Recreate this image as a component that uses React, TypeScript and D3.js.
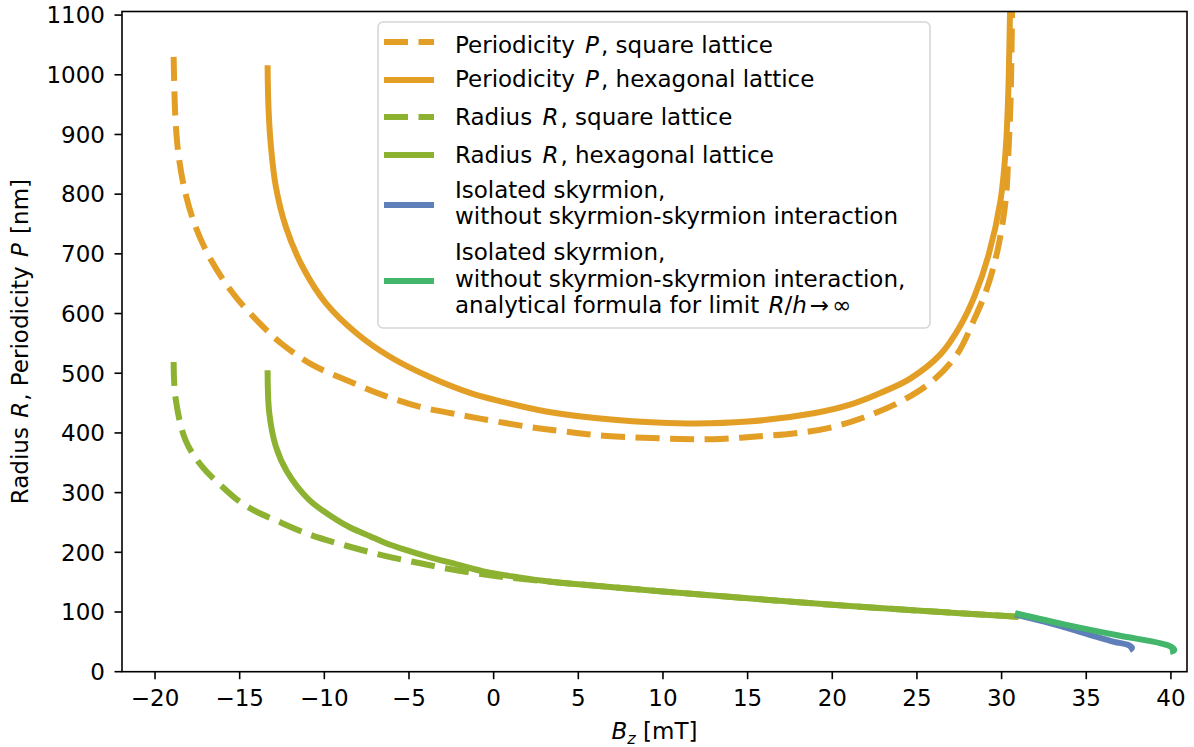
import React from 'react';
import * as d3 from 'd3';

// Periodicity P, square lattice (dashed orange)
const pSquareB = [-18.9, -18.8, -18.6, -18.2, -17.6, -16.7, -15.4, -13.9, -12.5, -10.7, -8.5, -6.5, -4.4, -2.5, -0.8, 2.1, 4.3, 6.7, 11.0, 13.4, 15.5, 17.7, 19.9, 22.05, 24.2, 26.0, 27.4, 28.36, 29.1, 29.76, 30.24, 30.41, 30.53, 30.62];
const pSquareV = [1030, 930, 863, 801, 745, 690, 634, 586, 549, 514, 486, 463, 444, 433, 424, 410, 402, 395, 390, 390, 394, 399, 409, 428, 455, 489, 533, 589, 639, 706, 790, 874, 957, 1110];

// Periodicity P, hexagonal lattice (solid orange)
const pHexB = [-13.35, -13.3, -13.15, -12.86, -12.27, -11.28, -9.9, -8.1, -6.15, -3.8, -1.4, 0.4, 3.1, 7.1, 11.4, 15.0, 18.9, 21.0, 22.84, 24.6, 26.4, 27.57, 28.4, 29.23, 29.94, 30.24, 30.38, 30.5];
const pHexV = [1016, 946, 879, 812, 745, 678, 617, 567, 528, 494, 467, 453, 436, 422, 416, 419, 433, 447, 467, 491, 532, 580, 629, 698, 790, 874, 957, 1110];

// Radius R, square lattice (dashed green)
const rSquareB = [-18.9, -18.8, -18.2, -17.2, -15.8, -15.0, -14.0, -12.9, -10.8, -8.7, -6.55, -4.4, -2.2, 0.2, 2.3, 5, 10, 15, 20, 25, 31.0];
const rSquareV = [519, 461, 388, 343, 304, 285, 268, 254, 229, 211, 195, 182, 170, 160, 153.5, 146.5, 134.5, 123, 112, 102.5, 92];

// Radius R, hexagonal lattice (solid green)
const rHexB = [-13.35, -13.25, -12.86, -12.2, -10.9, -9.3, -8.5, -7.3, -6.5, -5.2, -3.8, -2.6, -0.6, 1.5, 3.3, 5, 10, 15, 20, 25, 31.0];
const rHexV = [505, 433, 377, 335, 288, 255, 242, 227, 217, 204, 192, 183, 168, 158, 151, 146.5, 134.5, 123, 112, 102.5, 92];

// isolated skyrmion (blue) and analytical limit (green)
const isoB = [30.8, 32.9, 35.07, 36.65, 37.45, 37.7, 37.55];
const isoV = [96, 81, 63, 50, 45, 40, 36];
const anaB = [30.8, 33.9, 36.85, 39.4, 40.0, 40.2, 39.95];
const anaV = [98, 78, 61, 47.5, 42, 36, 33];

const xTicks = [-20, -15, -10, -5, 0, 5, 10, 15, 20, 25, 30, 35, 40];
const yTicks = [0, 100, 200, 300, 400, 500, 600, 700, 800, 900, 1000, 1100];

const ORANGE = '#e39e26';
const OLIVE = '#8db232';
const BLUE = '#5f7fb9';
const GREEN = '#43b66b';
const FONT = 'DejaVu Sans';
const FS = 23;
const DASH = '24 10.5';

const series = [
  { b: pSquareB, v: pSquareV, color: ORANGE, dash: DASH },
  { b: pHexB, v: pHexV, color: ORANGE, dash: null },
  { b: rSquareB, v: rSquareV, color: OLIVE, dash: DASH },
  { b: rHexB, v: rHexV, color: OLIVE, dash: null },
  { b: isoB, v: isoV, color: BLUE, dash: null },
  { b: anaB, v: anaV, color: GREEN, dash: null },
];

export default function App() {
  const W = 1194, H = 747;
  const left = 122, right = 1187, top = 11.5, bottom = 671.7;

  const x = d3.scaleLinear().domain([-21.95, 40.95]).range([left, right]);
  const y = d3.scaleLinear().domain([0, 1106]).range([bottom, top]);

  const line = d3.line<[number, number]>()
    .x(d => x(d[0]))
    .y(d => y(d[1]))
    .curve(d3.curveCatmullRom.alpha(0.5));

  const fmt = (t: number) => (t < 0 ? '\u2212' + Math.abs(t) : String(t));

  // legend rows: handle y, text line centres
  const legendRows = [
    { hy: 42, color: ORANGE, dash: DASH, lines: [45], kind: 'pSq' },
    { hy: 80, color: ORANGE, dash: null, lines: [79], kind: 'pHex' },
    { hy: 117, color: OLIVE, dash: DASH, lines: [117], kind: 'rSq' },
    { hy: 155, color: OLIVE, dash: null, lines: [155], kind: 'rHex' },
    { hy: 205, color: BLUE, dash: null, lines: [190, 216], kind: 'iso' },
    { hy: 281, color: GREEN, dash: null, lines: [252, 279, 305], kind: 'ana' },
  ];

  const tx = 455;
  const base = (cy: number) => cy + 8.3;

  const mathVar = (s: string) => (
    <>
      <tspan dx={3} fontStyle="italic">{s}</tspan>
      <tspan dx={2}>,</tspan>
    </>
  );

  const labelFor = (kind: string, i: number, cy: number) => {
    const common = { x: tx, y: base(cy), fontSize: FS, fontFamily: FONT, fill: '#000' };
    switch (kind) {
      case 'pSq':
        return <text key={kind + i} {...common}>Periodicity {mathVar('P')} square lattice</text>;
      case 'pHex':
        return <text key={kind + i} {...common}>Periodicity {mathVar('P')} hexagonal lattice</text>;
      case 'rSq':
        return <text key={kind + i} {...common}>Radius {mathVar('R')} square lattice</text>;
      case 'rHex':
        return <text key={kind + i} {...common}>Radius {mathVar('R')} hexagonal lattice</text>;
      case 'iso':
        return <text key={kind + i} {...common}>{['Isolated skyrmion,', 'without skyrmion-skyrmion interaction'][i]}</text>;
      default:
        if (i < 2) return <text key={kind + i} {...common}>{['Isolated skyrmion,', 'without skyrmion-skyrmion interaction,'][i]}</text>;
        return (
          <text key={kind + i} {...common}>
            analytical formula for limit <tspan dx={2} fontStyle="italic">R</tspan>/<tspan fontStyle="italic">h</tspan>
            <tspan dx={3}>→</tspan><tspan dx={3}>∞</tspan>
          </text>
        );
    }
  };

  return (
    <svg width={W} height={H} style={{ position: 'absolute', left: 0, top: 0, background: '#fff' }}>
      <defs>
        <clipPath id="plot">
          <rect x={left} y={top} width={right - left} height={bottom - top} />
        </clipPath>
      </defs>

      <g clipPath="url(#plot)">
        {series.map((s, i) => (
          <path
            key={i}
            d={line(s.b.map((b, j) => [b, s.v[j]] as [number, number])) || ''}
            fill="none"
            stroke={s.color}
            strokeWidth={6}
            strokeDasharray={s.dash || undefined}
            strokeLinecap="butt"
            strokeLinejoin="round"
          />
        ))}
      </g>

      {/* frame */}
      <rect x={left} y={top} width={right - left} height={bottom - top} fill="none" stroke="#000" strokeWidth={1.6} />

      {/* x ticks */}
      {xTicks.map(t => (
        <g key={'x' + t} transform={`translate(${x(t)},${bottom})`}>
          <line y2={7.5} stroke="#000" strokeWidth={1.6} />
          <text y={34.8} textAnchor="middle" fontSize={FS} fontFamily={FONT}>{fmt(t)}</text>
        </g>
      ))}

      {/* y ticks */}
      {yTicks.map(t => (
        <g key={'y' + t} transform={`translate(${left},${y(t)})`}>
          <line x2={-7.5} stroke="#000" strokeWidth={1.6} />
          <text x={-17} dy={8.3} textAnchor="end" fontSize={FS} fontFamily={FONT}>{t}</text>
        </g>
      ))}

      {/* axis labels */}
      <text x={(left + right) / 2} y={739} textAnchor="middle" fontSize={FS} fontFamily={FONT}>
        <tspan fontStyle="italic">B</tspan><tspan fontStyle="italic" fontSize={FS * 0.7} dy={5}>z</tspan><tspan dy={-5}> [mT]</tspan>
      </text>
      <text transform={`translate(28,${(top + bottom) / 2}) rotate(-90)`} textAnchor="middle" fontSize={FS} fontFamily={FONT}>
        Radius <tspan dx={2} fontStyle="italic">R</tspan><tspan dx={1}>, Periodicity</tspan> <tspan dx={2} fontStyle="italic">P</tspan><tspan dx={2}> [nm]</tspan>
      </text>

      {/* legend */}
      <rect x={378} y={22} width={552} height={306} rx={5} fill="#fff" fillOpacity={0.8} stroke="#d6d6d6" strokeWidth={1.6} />
      {legendRows.map(r => (
        <g key={r.kind}>
          <line x1={384} x2={434} y1={r.hy} y2={r.hy} stroke={r.color} strokeWidth={6} strokeDasharray={r.dash || undefined} />
          {r.lines.map((cy, i) => labelFor(r.kind, i, cy))}
        </g>
      ))}
    </svg>
  );
}
